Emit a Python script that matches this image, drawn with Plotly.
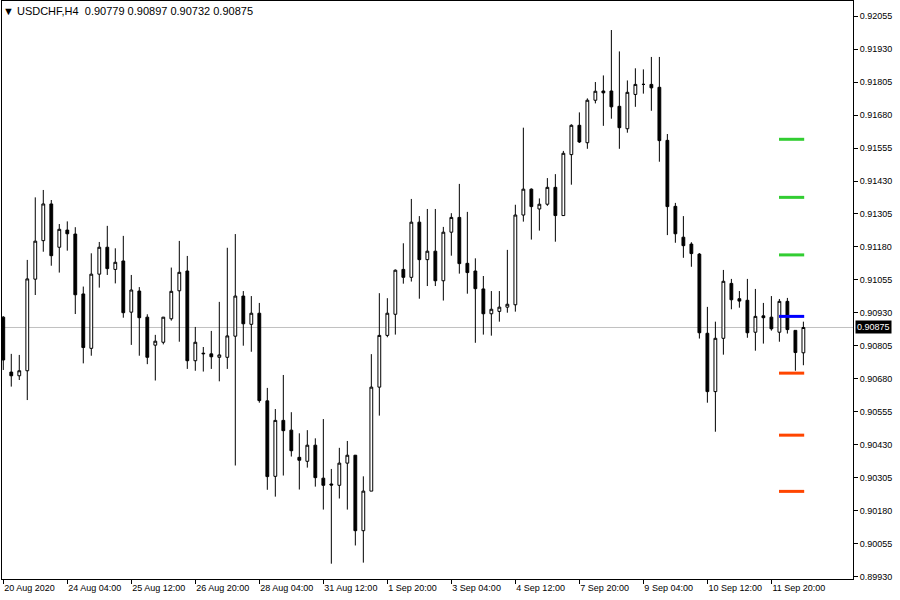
import plotly.graph_objects as go

symbol_title = "USDCHF,H4"

tick_bars = [0, 8, 16, 24, 32, 40, 48, 56, 64, 72, 80, 88, 96]
tick_labels = ["20 Aug 2020", "24 Aug 04:00", "25 Aug 12:00", "26 Aug 20:00",
               "28 Aug 04:00", "31 Aug 12:00", "1 Sep 20:00", "3 Sep 04:00",
               "4 Sep 12:00", "7 Sep 20:00", "9 Sep 04:00", "10 Sep 12:00",
               "11 Sep 20:00"]

price_ticks = [0.89930, 0.90055, 0.90180, 0.90305, 0.90430, 0.90555, 0.90680,
               0.90805, 0.90930, 0.91055, 0.91180, 0.91305, 0.91430, 0.91555,
               0.91680, 0.91805, 0.91930, 0.92055]
price_tick_text = ["0.89930", "0.90055", "0.90180", "0.90305", "0.90430", "0.90555",
                   "0.90680", "0.90805", "0.90930", "0.91055", "0.91180", "0.91305",
                   "0.91430", "0.91555", "0.91680", "0.91805", "0.91930", "0.92055"]

opens = [0.90914, 0.90706, 0.90692, 0.90711, 0.91058, 0.91204, 0.91343, 0.91179, 0.91244, 0.91229,
         0.91002, 0.90796, 0.91077, 0.91179, 0.91095, 0.91127, 0.90933, 0.91013, 0.90914, 0.90808,
         0.90819, 0.90908, 0.91014, 0.91089, 0.90749, 0.90775, 0.90775, 0.90762, 0.90762, 0.90842,
         0.90994, 0.90887, 0.90929, 0.90597, 0.90311, 0.90523, 0.90486, 0.90383, 0.90368, 0.90429,
         0.90304, 0.90282, 0.90277, 0.90361, 0.90391, 0.90105, 0.90255, 0.90649, 0.90845, 0.90925,
         0.91095, 0.91065, 0.91274, 0.91132, 0.91164, 0.91052, 0.91236, 0.91292, 0.91118, 0.91089,
         0.91021, 0.90927, 0.90936, 0.90952, 0.90961, 0.91301, 0.91399, 0.91324, 0.91342, 0.91406,
         0.91299, 0.91530, 0.91641, 0.91575, 0.91736, 0.91771, 0.91771, 0.91713, 0.91628, 0.91758,
         0.91796, 0.91796, 0.91785, 0.91584, 0.91334, 0.91217, 0.91191, 0.91153, 0.90853, 0.90632,
         0.90834, 0.91042, 0.90984, 0.90978, 0.90857, 0.90919, 0.90914, 0.90857, 0.90974, 0.90864,
         0.90779]
highs = [0.90918, 0.90775, 0.90771, 0.91131, 0.91368, 0.91396, 0.91358, 0.91267, 0.91277, 0.91255,
         0.91030, 0.91156, 0.91199, 0.91260, 0.91175, 0.91222, 0.91074, 0.91028, 0.90925, 0.90847,
         0.90915, 0.91102, 0.91203, 0.91146, 0.90877, 0.90801, 0.90862, 0.90972, 0.91177, 0.91229,
         0.91013, 0.90994, 0.90968, 0.90646, 0.90566, 0.90695, 0.90554, 0.90474, 0.90486, 0.90455,
         0.90528, 0.90339, 0.90419, 0.90445, 0.90392, 0.90311, 0.90774, 0.91005, 0.90986, 0.91095,
         0.91194, 0.91362, 0.91297, 0.91324, 0.91324, 0.91256, 0.91308, 0.91419, 0.91313, 0.91137,
         0.91070, 0.91013, 0.91013, 0.91169, 0.91340, 0.91632, 0.91402, 0.91364, 0.91441, 0.91456,
         0.91544, 0.91645, 0.91690, 0.91743, 0.91805, 0.91830, 0.92002, 0.91921, 0.91811, 0.91857,
         0.91853, 0.91900, 0.91900, 0.91608, 0.91347, 0.91297, 0.91198, 0.91157, 0.90953, 0.90897,
         0.91093, 0.91059, 0.91013, 0.91059, 0.91021, 0.90968, 0.90994, 0.90983, 0.90987, 0.90864,
         0.90897]
lows = [0.90714, 0.90651, 0.90676, 0.90600, 0.90998, 0.91162, 0.91109, 0.91083, 0.91166, 0.90926,
        0.90739, 0.90768, 0.91026, 0.91074, 0.91042, 0.90912, 0.90809, 0.90768, 0.90736, 0.90674,
        0.90811, 0.90901, 0.90821, 0.90718, 0.90711, 0.90708, 0.90718, 0.90671, 0.90718, 0.90352,
        0.90806, 0.90783, 0.90590, 0.90260, 0.90234, 0.90314, 0.90386, 0.90261, 0.90344, 0.90272,
        0.90185, 0.89980, 0.90227, 0.90185, 0.90049, 0.89984, 0.90255, 0.90541, 0.90838, 0.90848,
        0.91041, 0.91049, 0.90984, 0.91032, 0.91032, 0.90977, 0.91147, 0.91079, 0.91003, 0.90817,
        0.90848, 0.90844, 0.90897, 0.90931, 0.90935, 0.91276, 0.91208, 0.91242, 0.91336, 0.91200,
        0.91299, 0.91416, 0.91574, 0.91552, 0.91724, 0.91639, 0.91666, 0.91552, 0.91613, 0.91711,
        0.91761, 0.91696, 0.91503, 0.91225, 0.91196, 0.91139, 0.91105, 0.90833, 0.90590, 0.90480,
        0.90772, 0.90944, 0.90950, 0.90836, 0.90787, 0.90814, 0.90863, 0.90821, 0.90852, 0.90711,
        0.90732]
closes = [0.90752, 0.90692, 0.90711, 0.91059, 0.91202, 0.91343, 0.91147, 0.91247, 0.91230, 0.90999,
          0.90799, 0.91077, 0.91179, 0.91098, 0.91122, 0.90931, 0.91017, 0.90912, 0.90762, 0.90823,
          0.90914, 0.91012, 0.91084, 0.90749, 0.90819, 0.90777, 0.90764, 0.90771, 0.90843, 0.90994,
          0.90889, 0.90929, 0.90598, 0.90310, 0.90523, 0.90484, 0.90408, 0.90372, 0.90429, 0.90306,
          0.90277, 0.90278, 0.90361, 0.90391, 0.90105, 0.90255, 0.90649, 0.90845, 0.90929, 0.91092,
          0.91065, 0.91274, 0.91132, 0.91164, 0.91052, 0.91236, 0.91292, 0.91117, 0.91083, 0.91022,
          0.90927, 0.90944, 0.90952, 0.90963, 0.91301, 0.91399, 0.91333, 0.91342, 0.91406, 0.91299,
          0.91535, 0.91641, 0.91578, 0.91736, 0.91770, 0.91764, 0.91711, 0.91632, 0.91766, 0.91796,
          0.91796, 0.91783, 0.91583, 0.91333, 0.91230, 0.91185, 0.91155, 0.90855, 0.90632, 0.90834,
          0.91050, 0.90980, 0.90975, 0.90855, 0.90917, 0.90912, 0.90870, 0.90974, 0.90867, 0.90780,
          0.90875]

resistance_levels = [0.91588, 0.91368, 0.91150]
pivot_level = [0.90917]
support_levels = [0.90702, 0.90467, 0.90254]

# layout constants (bar-index span of the level markers)
LEVEL_X0 = 96.95
LEVEL_X1 = 100.1

bars = list(range(len(opens)))

fig = go.Figure()

fig.add_shape(type="line", xref="paper", x0=0, x1=1, yref="y",
              y0=closes[-1], y1=closes[-1],
              line=dict(color="#C0C0C0", width=1), layer="below")

fig.add_trace(go.Candlestick(
    x=bars, open=opens, high=highs, low=lows, close=closes,
    increasing=dict(line=dict(color="black", width=1), fillcolor="white"),
    decreasing=dict(line=dict(color="black", width=1), fillcolor="black"),
    whiskerwidth=0, showlegend=False, hoverinfo="skip"))

for lv in resistance_levels:
    fig.add_trace(go.Scatter(x=[LEVEL_X0, LEVEL_X1], y=[lv, lv], mode="lines",
                             line=dict(color="#32CD32", width=3),
                             showlegend=False, hoverinfo="skip"))
for lv in pivot_level:
    fig.add_trace(go.Scatter(x=[LEVEL_X0, LEVEL_X1], y=[lv, lv], mode="lines",
                             line=dict(color="#0000FF", width=3),
                             showlegend=False, hoverinfo="skip"))
for lv in support_levels:
    fig.add_trace(go.Scatter(x=[LEVEL_X0, LEVEL_X1], y=[lv, lv], mode="lines",
                             line=dict(color="#FF4500", width=3),
                             showlegend=False, hoverinfo="skip"))

title_text = ("\u25BC\u00a0" + symbol_title + "\u00a0\u00a0"
              + " ".join(f"{v:.5f}" for v in (opens[-1], highs[-1], lows[-1], closes[-1])))

fig.add_annotation(xref="paper", yref="paper", x=0, y=1, xanchor="left", yanchor="top",
                   xshift=-1, yshift=-2, showarrow=False, text=title_text,
                   font=dict(family="Liberation Sans", size=11, color="black"))

fig.add_annotation(xref="paper", yref="y", x=1, y=closes[-1], xanchor="left", yanchor="middle",
                   xshift=2, showarrow=False, text=f"{closes[-1]:.5f}",
                   bgcolor="black", borderpad=1,
                   font=dict(family="Liberation Sans", size=9, color="white"))

fig.update_layout(
    width=900, height=600,
    margin=dict(l=2, r=47, t=1, b=21),
    paper_bgcolor="white", plot_bgcolor="white",
    showlegend=False,
    boxgap=0.5,
)

fig.update_xaxes(
    range=[-0.16, 106.2],
    tickmode="array", tickvals=tick_bars, ticktext=tick_labels,
    ticks="outside", ticklen=4, tickcolor="black", tickwidth=1,
    ticklabelposition="outside right",
    tickfont=dict(family="Liberation Sans", size=9, color="black"),
    showgrid=False, zeroline=False,
    showline=True, linecolor="black", linewidth=1, mirror=True,
    rangeslider=dict(visible=False),
)

fig.update_yaxes(
    side="right",
    range=[0.89922, 0.92112],
    tickmode="array", tickvals=price_ticks, ticktext=price_tick_text,
    ticks="outside", ticklen=4, tickcolor="black", tickwidth=1,
    tickfont=dict(family="Liberation Sans", size=9, color="black"),
    showgrid=False, zeroline=False,
    showline=True, linecolor="black", linewidth=1, mirror=True,
)

fig.write_html("out.html", config={"displayModeBar": False},
               post_script="document.body.style.margin='0px';")
